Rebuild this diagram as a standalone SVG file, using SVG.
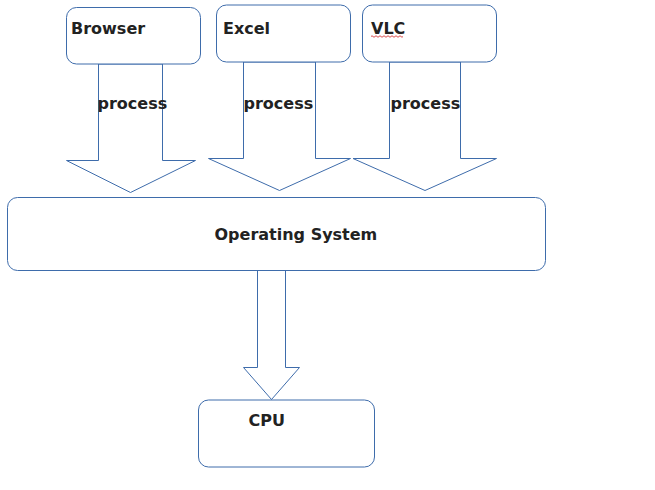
<svg xmlns="http://www.w3.org/2000/svg" width="655" height="490" viewBox="0 0 655 490">
<style>
.box{fill:#fff;stroke:#3e6cab;stroke-width:1}
.arr{fill:#fff;stroke:#3e6cab;stroke-width:1;stroke-linejoin:miter}
.t{font-family:"DejaVu Sans",sans-serif;font-weight:bold;font-size:16px;fill:#222}
</style>
<rect width="655" height="490" fill="#fff"/>
<g id="connectors">
<polygon class="arr" points="98.5,64 162.5,64 162.5,160.5 195.5,160.5 130.5,192.5 66.5,160.5 98.5,160.5"/>
<polygon class="arr" points="243.5,62 315.5,62 315.5,158.5 350.5,158.5 279.5,190.5 208.5,158.5 243.5,158.5"/>
<polygon class="arr" points="389.5,62 460.5,62 460.5,158.5 496.5,158.5 425,190.5 353,158.5 389.5,158.5"/>
<polygon class="arr" points="257.5,270.5 285.5,270.5 285.5,367.5 299.5,367.5 271.5,399.5 243.5,367.5 257.5,367.5"/>
<text class="t" x="97.5" y="108.5">process</text>
<text class="t" x="243.5" y="108.5">process</text>
<text class="t" x="390.5" y="108.5">process</text>
</g>
<g id="browser">
<rect class="box" x="66.5" y="7.5" width="134" height="56.5" rx="10"/>
<text class="t" x="71" y="34">Browser</text>
</g>
<g id="excel">
<rect class="box" x="216.5" y="5" width="134" height="57" rx="10"/>
<text class="t" x="223" y="34">Excel</text>
</g>
<g id="vlc">
<rect class="box" x="362.5" y="5" width="134" height="57" rx="10"/>
<text class="t" x="371" y="34">VLC</text>
<path d="M371,36.5 q1,-1.5 2,0 t2,0 t2,0 t2,0 t2,0 t2,0 t2,0 t2,0 t2,0 t2,0 t2,0 t2,0 t2,0 t2,0 t2,0 t2,0" fill="none" stroke="#d02020" stroke-width="0.8"/>
</g>
<g id="os">
<rect class="box" x="7.5" y="197.5" width="538" height="73" rx="10"/>
<text class="t" x="214.5" y="240">Operating System</text>
</g>
<g id="cpu">
<rect class="box" x="198.5" y="400" width="176" height="67" rx="10"/>
<text class="t" x="248.5" y="425.5">CPU</text>
</g>
</svg>
